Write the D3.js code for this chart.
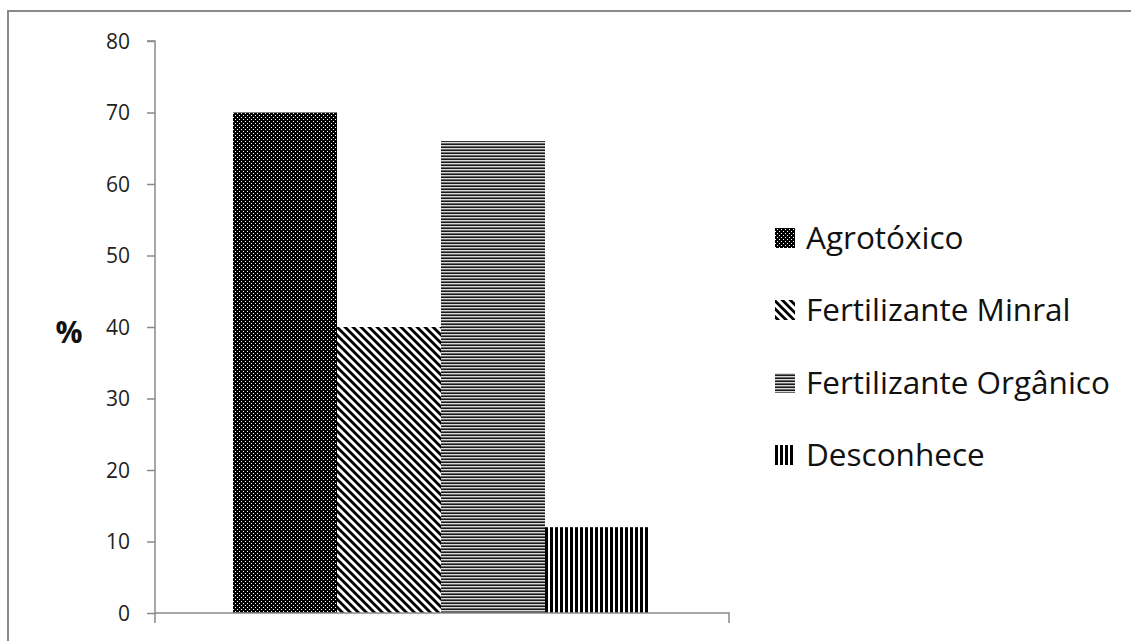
<!DOCTYPE html>
<html><head><meta charset="utf-8">
<script src="https://cdn.jsdelivr.net/npm/d3@7"></script>
<style>body{margin:0;background:#fff}svg{display:block}</style>
</head><body>
<svg id="chart" width="1131" height="641"></svg>
<script>
const categories = ["Agrotóxico","Fertilizante Minral","Fertilizante Orgânico","Desconhece"];
const values = [70, 40, 66, 12];
const yTicks = [0,10,20,30,40,50,60,70,80];
const yLabel = "%";

(function(){
const svg = d3.select("#chart");
const defs = svg.append("defs");

// patterns
const p0 = defs.append("pattern").attr("id","pat0").attr("patternUnits","userSpaceOnUse").attr("width",4).attr("height",4);
p0.append("rect").attr("width",4).attr("height",4).attr("fill","#000");
p0.append("rect").attr("x",1).attr("y",1).attr("width",1).attr("height",1).attr("fill","#fff");
p0.append("rect").attr("x",3).attr("y",3).attr("width",1).attr("height",1).attr("fill","#fff");

const p1 = defs.append("pattern").attr("id","pat1").attr("patternUnits","userSpaceOnUse").attr("width",5.66).attr("height",10).attr("patternTransform","rotate(-45)");
p1.append("rect").attr("width",5.66).attr("height",10).attr("fill","#fff");
p1.append("rect").attr("width",2.8).attr("height",10).attr("fill","#000");

const p2 = defs.append("pattern").attr("id","pat2").attr("patternUnits","userSpaceOnUse").attr("width",10).attr("height",3);
p2.append("rect").attr("y",0).attr("width",10).attr("height",1).attr("fill","#1a1a1a");
p2.append("rect").attr("y",1).attr("width",10).attr("height",1).attr("fill","#d8d8d8");
p2.append("rect").attr("y",2).attr("width",10).attr("height",1).attr("fill","#6a6a6a");

const p3 = defs.append("pattern").attr("id","pat3").attr("patternUnits","userSpaceOnUse").attr("width",5).attr("height",10);
p3.append("rect").attr("width",5).attr("height",10).attr("fill","#fff");
p3.append("rect").attr("width",3).attr("height",10).attr("fill","#000");

const fills = ["url(#pat0)","url(#pat1)","url(#pat2)","url(#pat3)"];

// outer border
svg.append("rect").attr("x",8).attr("y",11).attr("width",1140).attr("height",660)
  .attr("fill","none").attr("stroke","#8a8a8a").attr("stroke-width",2);

const pLeft = 155, pRight = 729, pTop = 41, pBottom = 613;
const y = d3.scaleLinear().domain([0,80]).range([pBottom, pTop]);
const x = d3.scaleBand().domain(categories).range([pLeft + 78, pRight - 80]);

// bars
svg.selectAll("rect.bar").data(categories).enter().append("rect")
  .attr("class","bar")
  .attr("x", d => x(d))
  .attr("width", x.bandwidth())
  .attr("y", (d,i) => y(values[i]))
  .attr("height", (d,i) => y(0) - y(values[i]))
  .attr("fill", (d,i) => fills[i]);

// y axis
const yAxis = d3.axisLeft(y).tickValues(yTicks).tickSize(8).tickPadding(17);
const gy = svg.append("g").attr("transform",`translate(${pLeft},0)`).call(yAxis);
gy.select(".domain").attr("stroke","#8a8a8a").attr("stroke-width",1.5).attr("d",`M-8,${pTop}H0V${pBottom+10}`);
gy.selectAll(".tick line").attr("stroke","#8a8a8a").attr("stroke-width",1.5);
gy.selectAll(".tick text").attr("fill","#222").style("font-family","'Open Sans', sans-serif").style("font-size","21px").attr("dy","0.34em");

// x axis
const gx = svg.append("g").attr("transform",`translate(0,${pBottom})`);
gx.append("path").attr("d",`M${pLeft},0H${pRight}V10`).attr("fill","none").attr("stroke","#8a8a8a").attr("stroke-width",1.5);

// y label
svg.append("text").attr("x",69).attr("y",332).attr("text-anchor","middle").attr("dy","0.36em")
  .style("font-family","'Open Sans', sans-serif").style("font-size","30px").style("font-weight","bold").attr("fill","#111").text(yLabel);

// legend
const legY = [238, 310, 383, 455];
const lg = svg.append("g");
categories.forEach((c,i) => {
  lg.append("rect").attr("x",775).attr("y",legY[i]-10).attr("width",20).attr("height",20).attr("fill",fills[i]);
  lg.append("text").attr("x",806).attr("y",legY[i]).attr("dy","0.36em")
    .style("font-family","'Open Sans', sans-serif").style("font-size","31.5px").attr("fill","#111").text(c);
});
})();
</script>
</body></html>
